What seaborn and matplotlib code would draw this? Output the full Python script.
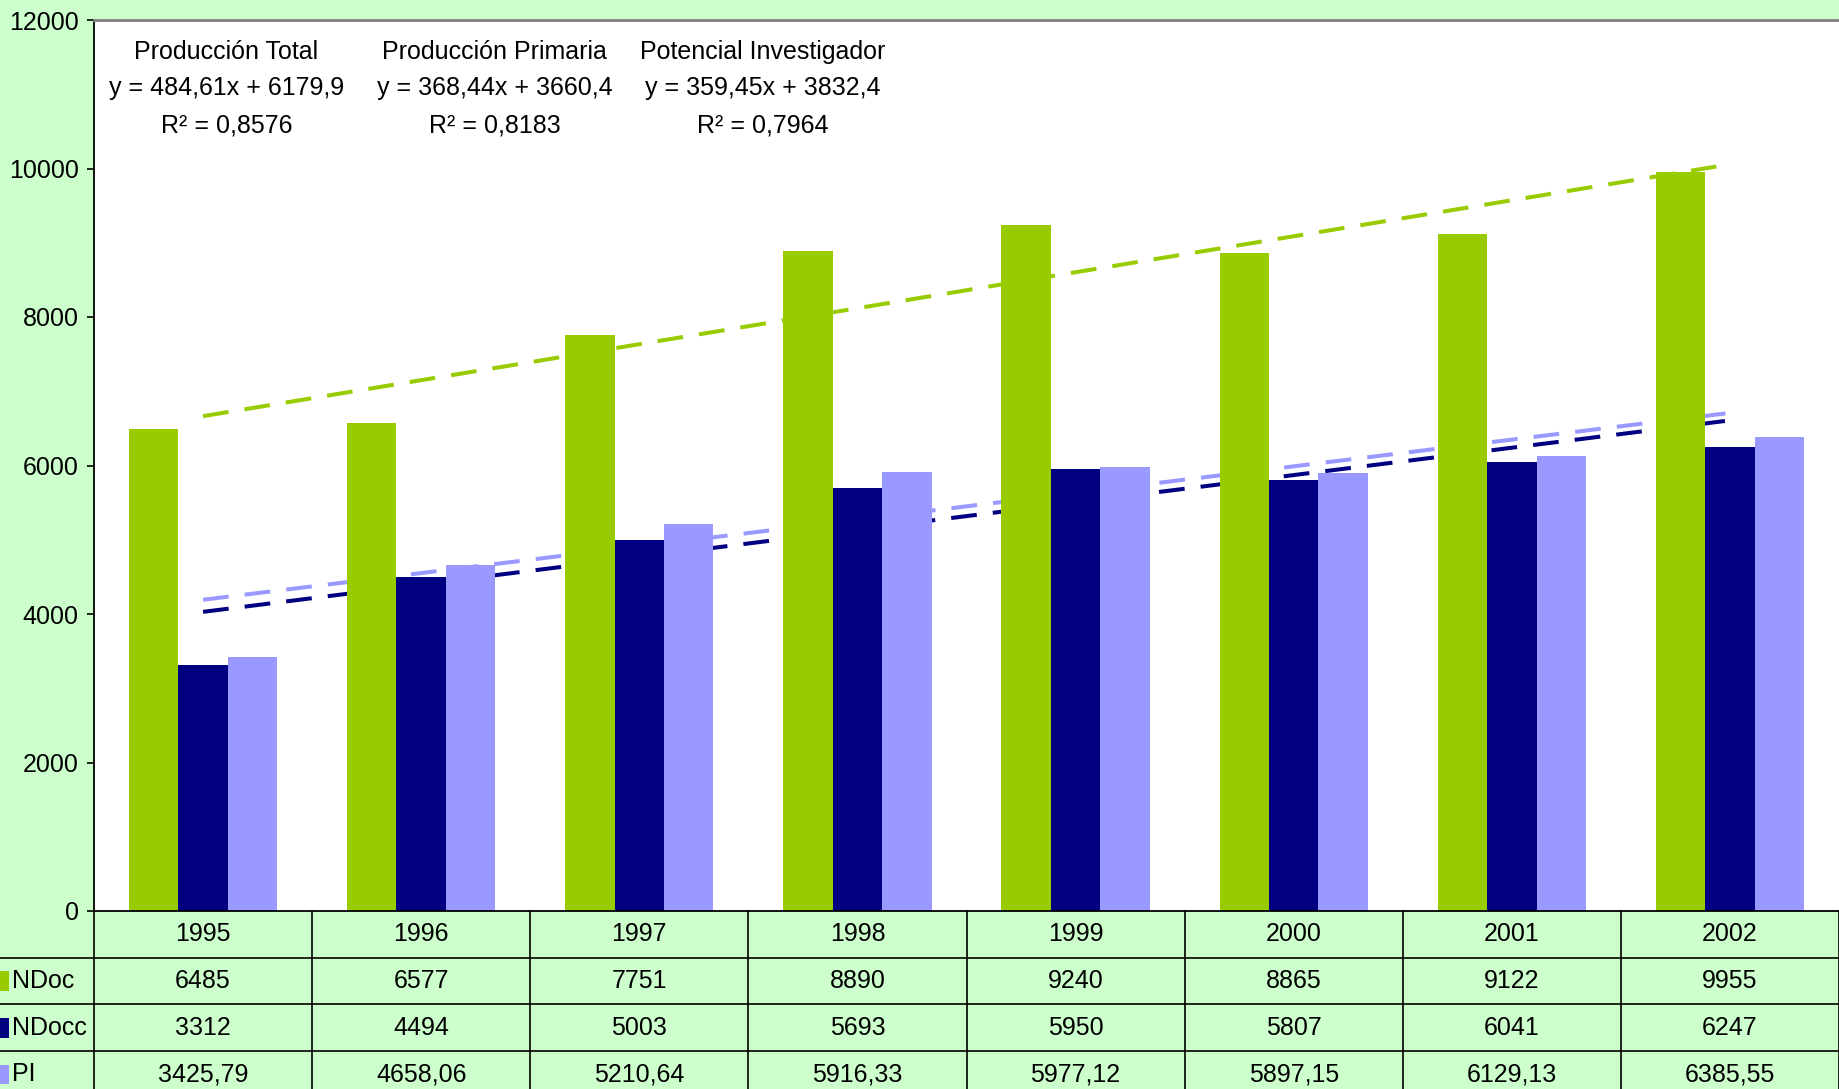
import numpy as np
import pandas as pd
import matplotlib
matplotlib.use("Agg")
import matplotlib.pyplot as plt
import seaborn as sns
from matplotlib.transforms import blended_transform_factory
from matplotlib.patches import Rectangle

# ---------------- data ----------------
years = ["1995", "1996", "1997", "1998", "1999", "2000", "2001", "2002"]
ndoc = [6485, 6577, 7751, 8890, 9240, 8865, 9122, 9955]
ndocc = [3312, 4494, 5003, 5693, 5950, 5807, 6041, 6247]
pi = [3425.79, 4658.06, 5210.64, 5916.33, 5977.12, 5897.15, 6129.13, 6385.55]
series_names = ["NDoc", "NDocc", "PI"]
trend_titles = ["Producción Total", "Producción Primaria", "Potencial Investigador"]
yticks = [0, 2000, 4000, 6000, 8000, 10000, 12000]

colors = ["#99CC00", "#000080", "#9999FF"]
BG = "#CCFFCC"
FS = 18

sns.set_theme(style="white")
plt.rcParams["font.family"] = ["Liberation Sans", "DejaVu Sans"]

W, H = 1839, 1089
fig = plt.figure(figsize=(W / 100, H / 100), dpi=100, facecolor=BG)
L = 94 / W
B = (H - 911) / H
T = 20 / H
ax = fig.add_axes([L, B, 1 - L, 1 - T - B])
ax.set_facecolor("white")

df = pd.DataFrame({
    "year": years * 3,
    "value": ndoc + ndocc + pi,
    "series": [s for s in series_names for _ in years],
})
sns.barplot(data=df, x="year", y="value", hue="series", hue_order=series_names,
            palette=colors, width=0.68, saturation=1, linewidth=0,
            legend=False, ax=ax, errorbar=None, zorder=2)

ax.set_xlim(-0.5, 7.5)
ax.set_ylim(0, 12000)
ax.set_yticks(yticks)
ax.set_yticklabels([str(t) for t in yticks])
ax.set_xlabel("")
ax.set_ylabel("")
ax.tick_params(axis="y", left=True, direction="out", length=5, width=1.2,
               color="black", labelsize=FS, pad=6, labelcolor="black")
ax.tick_params(axis="x", bottom=False, labelbottom=False)
ax.spines["right"].set_visible(False)
ax.spines["top"].set_color("#808080")
ax.spines["top"].set_linewidth(2)
ax.spines["left"].set_color("black")
ax.spines["left"].set_linewidth(1.3)
ax.spines["bottom"].set_color("black")
ax.spines["bottom"].set_linewidth(1.3)

# ---------------- trend lines ----------------
xs = np.arange(1, len(years) + 1)
ann_x = [0.107, 1.336, 2.565]
ann_y = [11574, 11084, 10579]
for vals, col, title, axx in zip([ndoc, ndocc, pi], colors, trend_titles, ann_x):
    v = np.array(vals, dtype=float)
    m, c = np.polyfit(xs, v, 1)
    fit = m * xs + c
    r2 = 1 - np.sum((v - fit) ** 2) / np.sum((v - v.mean()) ** 2)
    ax.plot(np.arange(len(years)), fit, color=col, lw=2.9, dashes=(6.4, 4.0),
            dash_capstyle="butt", zorder=1)
    eq = "y = {}x + {}".format(f"{m:.2f}".replace(".", ","), f"{c:.1f}".replace(".", ","))
    r2s = "R² = {}".format(f"{r2:.4f}".replace(".", ","))
    for txt, yy in zip([title, eq, r2s], ann_y):
        ax.text(axx, yy, txt, ha="center", va="center", fontsize=FS, color="black")

# ---------------- data table ----------------
row_h = 46.7
tax = fig.add_axes([L, 0, 1 - L, B])
tax.set_xlim(-0.5, 7.5)
ymax = (H - 911) / row_h
tax.set_ylim(ymax, 0)
tax.axis("off")
for k in range(len(years) + 1):
    tax.plot([k - 0.5, k - 0.5], [0, ymax], color="black", lw=1.2, clip_on=False)
trans = blended_transform_factory(fig.transFigure, tax.transData)
for r in [1, 2, 3]:
    tax.plot([0, 1], [r, r], color="black", lw=1.2, transform=trans, clip_on=False)

for i, yr in enumerate(years):
    tax.text(i, 0.5, yr, ha="center", va="center", fontsize=FS, color="black")

def fmt(v):
    if float(v).is_integer():
        return str(int(v))
    return f"{v:.2f}".replace(".", ",")

for r, (name, vals, col) in enumerate(zip(series_names, [ndoc, ndocc, pi], colors), start=1):
    for i, v in enumerate(vals):
        tax.text(i, r + 0.5, fmt(v), ha="center", va="center", fontsize=FS, color="black")
    tax.add_patch(Rectangle((0, r + 0.5 - 0.21), 9 / W, 0.42, transform=trans,
                            facecolor=col, edgecolor="none", clip_on=False))
    tax.text(12 / W, r + 0.5, name, transform=trans, ha="left", va="center",
             fontsize=FS, color="black")

fig.savefig("out.png", dpi=100, facecolor=BG)
